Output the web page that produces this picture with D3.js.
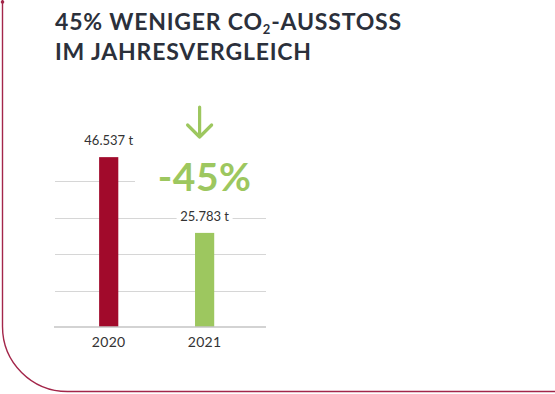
<!DOCTYPE html>
<html>
<head>
<meta charset="utf-8">
<script src="https://cdn.jsdelivr.net/npm/d3@7"></script>
<style>
  html, body { margin: 0; padding: 0; background: #fff; }
  svg { display: block; }
</style>
</head>
<body>
<div id="chart"></div>
<script>
var years = ["2020", "2021"];
var emissions = [46537, 25783];
var gridTicks = [0, 10000, 20000, 30000, 40000];
var titleLines = ["45% WENIGER CO", "IM JAHRESVERGLEICH"];

var colors = ["#a10a2b", "#9dc75f"];

var width = 555,
    height = 394;

var svg = d3.select("#chart")
    .append("svg")
    .attr("width", width)
    .attr("height", height);

// frame: line down the left, rounded corner, line along the bottom
var r = 65;
svg.append("path")
    .attr("d", "M2.5,0 L2.5," + (391.5 - r) + " A" + r + "," + r + " 0 0 0 " + (2.5 + r) + ",391.5 L555,391.5")
    .attr("fill", "none")
    .attr("stroke", "#a3264a")
    .attr("stroke-width", 1.4);
svg.append("circle")
    .attr("cx", 2.5).attr("cy", 2).attr("r", 1.8)
    .attr("fill", "#a3264a");

// title
var title = svg.append("text")
    .attr("x", 55)
    .attr("font-family", "Lato")
    .attr("font-weight", 700)
    .attr("font-size", 23)
    .attr("letter-spacing", 0.8)
    .attr("fill", "#2b303b");
title.append("tspan").attr("x", 55).attr("y", 30).text(titleLines[0]);
title.append("tspan").attr("font-size", 13).attr("dy", 4).text("2");
title.append("tspan").attr("dy", -4).text("-AUSSTOSS");
title.append("tspan").attr("x", 55).attr("y", 60).text(titleLines[1]);

var x = d3.scaleBand()
    .domain(years)
    .range([55, 266])
    .paddingInner(0.8)
    .paddingOuter(0.5)
    .align(0.46);

var y = d3.scaleLinear()
    .domain([0, 50000])
    .range([327, 144.5]);

// gridlines
svg.append("g")
    .selectAll("line")
    .data(gridTicks.filter(function (d) { return d > 0; }))
    .enter().append("line")
    .attr("x1", 55).attr("x2", 266)
    .attr("y1", function (d) { return Math.round(y(d)) + 0.5; })
    .attr("y2", function (d) { return Math.round(y(d)) + 0.5; })
    .attr("stroke", "#d6d6d6")
    .attr("stroke-width", 1);

// bars
svg.append("g")
    .selectAll("rect")
    .data(emissions)
    .enter().append("rect")
    .attr("x", function (d, i) { return x(years[i]); })
    .attr("y", function (d) { return y(d); })
    .attr("width", x.bandwidth())
    .attr("height", function (d) { return y(0) - y(d); })
    .attr("fill", function (d, i) { return colors[i]; });

// baseline
svg.append("line")
    .attr("x1", 54).attr("x2", 266)
    .attr("y1", y(0)).attr("y2", y(0))
    .attr("stroke", "#c4c4c4")
    .attr("stroke-width", 1.6);

// year labels
svg.append("g")
    .selectAll("text")
    .data(years)
    .enter().append("text")
    .attr("x", function (d) { return x(d) + x.bandwidth() / 2; })
    .attr("y", 347)
    .attr("text-anchor", "middle")
    .attr("font-family", "Lato")
    .attr("font-size", 14)
    .attr("letter-spacing", 0.3)
    .attr("fill", "#333")
    .text(function (d) { return d; });

// value labels with white background
var fmt = d3.formatLocale({ decimal: ",", thousands: ".", grouping: [3], currency: ["", ""] }).format(",");
var labels = svg.append("g")
    .selectAll("g")
    .data(emissions)
    .enter().append("g");
labels.append("rect")
    .attr("x", function (d, i) { return x(years[i]) + x.bandwidth() / 2 - 28; })
    .attr("y", function (d) { return y(d) - 24; })
    .attr("width", 56)
    .attr("height", 16)
    .attr("fill", "#fff");
labels.append("text")
    .attr("x", function (d, i) { return x(years[i]) + x.bandwidth() / 2; })
    .attr("y", function (d) { return y(d) - 12; })
    .attr("text-anchor", "middle")
    .attr("font-family", "Lato")
    .attr("font-size", 13)
    .attr("fill", "#333")
    .text(function (d) { return fmt(d) + " t"; });

// change annotation
var change = Math.round((emissions[1] / emissions[0] - 1) * 100);
var cx = x(years[1]) + x.bandwidth() / 2;
svg.append("rect")
    .attr("x", 135).attr("y", 160)
    .attr("width", 135).attr("height", 36)
    .attr("fill", "#fff");
svg.append("text")
    .attr("x", cx)
    .attr("y", 191)
    .attr("text-anchor", "middle")
    .attr("font-family", "Lato")
    .attr("font-weight", 700)
    .attr("font-size", 39)
    .attr("letter-spacing", 0.5)
    .attr("fill", "#9dc75f")
    .text(change + "%");

var ax = cx - 5;
svg.append("path")
    .attr("d", "M" + ax + ",107 L" + ax + ",137 M" + (ax - 12) + ",125 L" + ax + ",137 L" + (ax + 12) + ",125")
    .attr("fill", "none")
    .attr("stroke", "#9dc75f")
    .attr("stroke-width", 3.2)
    .attr("stroke-linecap", "round")
    .attr("stroke-linejoin", "round");
</script>
</body>
</html>
